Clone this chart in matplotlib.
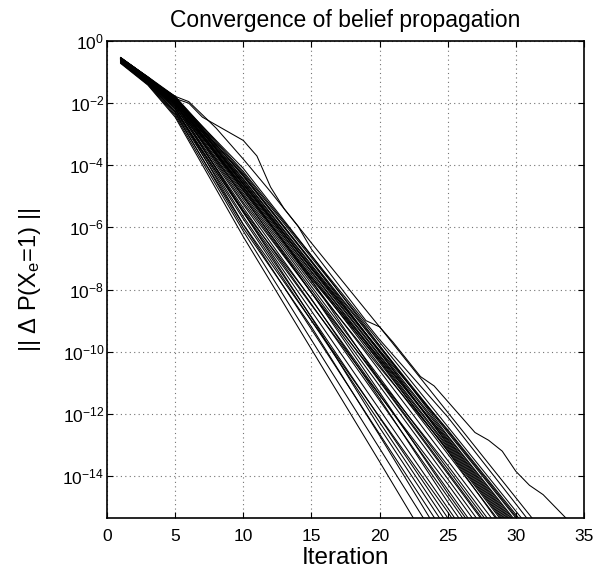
import numpy as np
import matplotlib
matplotlib.use('Agg')
import matplotlib.pyplot as plt

plt.rcParams['font.family'] = 'Liberation Sans'
plt.rcParams['mathtext.fontset'] = 'custom'
plt.rcParams['mathtext.rm'] = 'Liberation Sans'
plt.rcParams['mathtext.default'] = 'regular'

iters = [1, 3, 5, 10, 15, 20, 25, 30, 35]
log_delta = [
    [-0.72, -1.42, -2.45, -6.30, -9.92, -13.54, -17.20],
    [-0.70, -1.40, -2.40, -6.12, -9.62, -13.11, -16.60],
    [-0.66, -1.36, -2.30, -6.02, -9.20, -12.70, -16.30],
    [-0.70, -1.38, -2.35, -5.91, -9.28, -12.65, -16.00],
    [-0.64, -1.33, -2.25, -5.50, -8.90, -12.44, -15.75],
    [-0.68, -1.35, -2.28, -5.73, -9.00, -12.27, -15.55],
    [-0.62, -1.30, -2.20, -5.65, -8.88, -12.12, -15.35, -18.60],
    [-0.66, -1.32, -2.15, -5.90, -9.00, -12.10, -15.16, -18.35],
    [-0.60, -1.28, -2.18, -5.52, -8.69, -11.86, -15.03, -18.20],
    [-0.63, -1.30, -2.10, -5.45, -8.30, -11.50, -14.84, -17.97],
    [-0.58, -1.26, -2.12, -5.37, -8.47, -11.57, -14.67, -17.77],
    [-0.65, -1.30, -2.05, -5.00, -8.10, -11.30, -14.55, -17.62],
    [-0.60, -1.25, -2.08, -5.26, -8.32, -11.38, -14.44, -17.50],
    [-0.57, -1.22, -2.00, -5.50, -8.50, -11.40, -14.26, -17.29],
    [-0.62, -1.28, -2.02, -5.11, -8.10, -11.10, -14.09, -17.09],
    [-0.58, -1.24, -1.98, -5.03, -8.00, -10.96, -13.93, -16.89],
    [-0.55, -1.20, -2.05, -4.70, -7.70, -10.92, -13.87, -16.83],
    [-0.60, -1.26, -1.95, -4.96, -7.90, -10.83, -13.77, -16.71],
    [-0.56, -1.22, -2.00, -5.20, -8.10, -10.90, -13.66, -16.58],
    [-0.59, -1.24, -1.92, -4.83, -7.72, -10.61, -13.50, -16.39],
    [-0.55, -1.20, -1.96, -4.77, -7.65, -10.30, -13.20, -16.27],
    [-0.58, -1.23, -1.90, -4.72, -7.58, -10.44, -13.29, -16.15],
    [-0.54, -1.18, -1.94, -4.67, -7.51, -10.35, -13.19, -16.03],
    [-0.57, -1.22, -1.88, -4.90, -7.80, -10.50, -13.14, -15.97],
    [-0.55, -1.19, -1.92, -4.62, -7.44, -10.27, -13.09, -15.92],
    [-0.58, -1.21, -1.86, -4.59, -7.41, -10.22, -13.04, -15.86],
    [-0.54, -1.17, -1.90, -4.30, -7.10, -10.00, -12.99, -15.80],
    [-0.56, -1.20, -1.85, -4.54, -7.34, -10.14, -12.94, -15.74],
    [-0.55, -1.18, -1.88, -4.51, -7.30, -10.10, -12.89, -15.68],
    [-0.57, -1.21, -1.83, -4.80, -7.60, -10.20, -12.84, -15.63],
    [-0.53, -1.16, -1.86, -4.46, -7.24, -10.02, -12.80, -15.57],
    [-0.56, -1.19, -1.82, -4.43, -7.20, -9.97, -12.74, -15.51],
    [-0.54, -1.17, -1.84, -4.10, -6.90, -9.80, -12.70, -15.46],
    [-0.55, -1.18, -1.80, -4.36, -7.11, -9.86, -12.60, -15.35, -18.10],
    [-0.53, -1.16, -1.83, -4.33, -7.07, -9.81, -12.55, -15.30, -18.04],
    [-0.56, -1.19, -1.79, -4.60, -7.30, -9.95, -12.51, -15.24, -17.98],
    [-0.54, -1.17, -1.81, -4.25, -6.97, -9.69, -12.41, -15.13, -17.85],
    [-0.55, -1.15, -1.78, -4.20, -6.91, -9.61, -12.10, -14.90, -17.74],
]

# two slower runs, read at more iterations
slow_iters = [1, 3, 5, 6, 8, 10, 12, 15, 20, 25, 30, 35]
slow_delta = [-0.58, -1.22, -1.78, -1.95, -2.80, -3.80, -4.85, -6.50, -9.20, -11.95, -14.70, -17.45]

slowest_iters = [1, 2, 3, 4, 5, 6, 7, 8, 9, 10, 11, 12, 13, 14, 15, 17, 19, 20,
                 21, 23, 24, 25, 27, 28, 29, 30, 31, 32, 34]
slowest_delta = [-0.55, -0.85, -1.20, -1.60, -1.85, -2.00, -2.45, -2.70, -2.95, -3.20,
                 -3.70, -4.70, -5.40, -5.95, -6.70, -7.85, -9.00, -9.20, -9.70, -10.80,
                 -11.10, -11.60, -12.60, -12.85, -13.20, -13.85, -14.30, -14.60, -15.50]

fig = plt.figure(figsize=(6.06, 5.70), dpi=100)
ax = fig.add_axes([0.1766, 0.0912, 0.7871, 0.8368])

for vals in log_delta:
    ax.semilogy(iters[:len(vals)], 10.0 ** np.array(vals), color='k', lw=0.75)
ax.semilogy(slow_iters, 10.0 ** np.array(slow_delta), color='k', lw=0.75)
ax.semilogy(slowest_iters, 10.0 ** np.array(slowest_delta), color='k', lw=0.75)

ax.set_xlim(0, 35)
ax.set_ylim(2 * np.finfo(float).eps, 1)
ax.set_xticks(range(0, 36, 5))
ax.set_yticks([10.0 ** -k for k in range(0, 15, 2)])
ax.minorticks_off()

ax.grid(True, color='0.45', linestyle=(0, (1, 3)), lw=0.8)
ax.tick_params(direction='in', length=4, width=0.8, top=True, right=True,
               labelsize=12.5)
ax.tick_params(axis='x', pad=8)
ax.tick_params(axis='y', pad=2)
for s in ax.spines.values():
    s.set_linewidth(1.2)

ax.set_title('Convergence of belief propagation', fontsize=16.5, pad=10)
ax.set_xlabel('Iteration', fontsize=17.5, labelpad=2)
ax.set_ylabel('|| \u0394 P(X$_e$=1) ||', fontsize=17, labelpad=14)

plt.savefig('out.png', dpi=100)
